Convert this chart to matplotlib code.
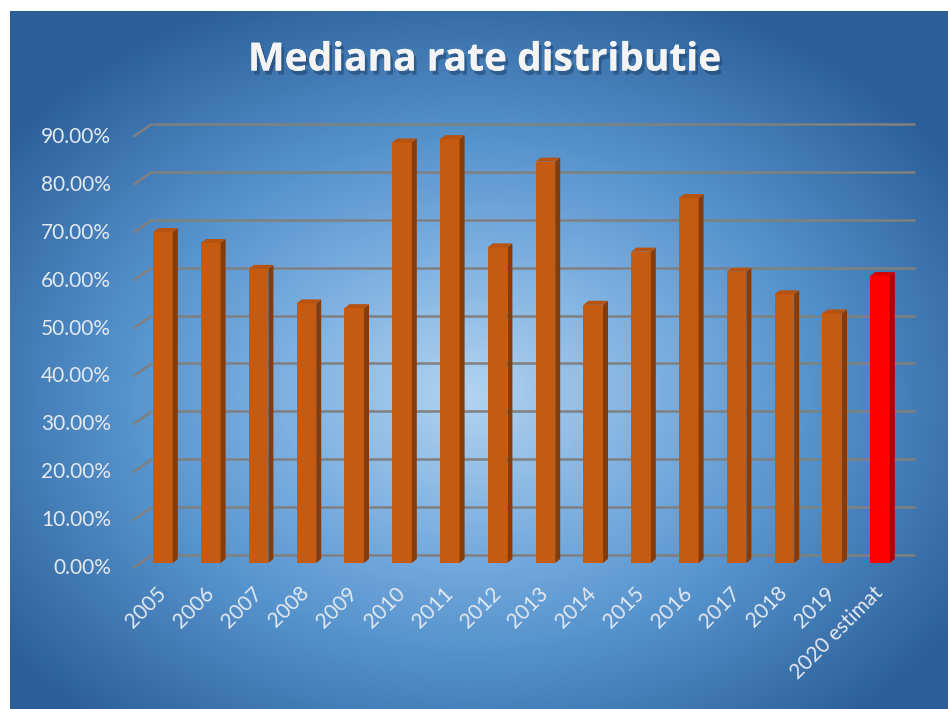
import numpy as np
import matplotlib
matplotlib.use("Agg")
import matplotlib.pyplot as plt
from matplotlib.patches import Polygon
from matplotlib.colors import LinearSegmentedColormap
import matplotlib.patheffects as pe

# ---- data ----
categories = ["2005", "2006", "2007", "2008", "2009", "2010", "2011", "2012",
              "2013", "2014", "2015", "2016", "2017", "2018", "2019", "2020 estimat"]
values = [69.1, 66.8, 61.4, 54.2, 53.2, 87.8, 88.5, 65.9,
          83.8, 53.9, 65.0, 76.2, 60.8, 56.1, 52.1, 59.9]
y_ticks = [0, 10, 20, 30, 40, 50, 60, 70, 80, 90]
title = "Mediana rate distributie"

W, H = 948, 709
fig = plt.figure(figsize=(W / 100, H / 100), dpi=100)
fig.patch.set_facecolor("white")

# ---- background radial gradient ----
bg = fig.add_axes([10 / W, 0, (W - 10) / W, (H - 11) / H], zorder=-5)
bg.set_axis_off()
gx, gy = np.meshgrid(np.linspace(0, 1, 400), np.linspace(0, 1, 300))
cx, cy = 0.49, 0.55
r = np.sqrt(((gx - cx) / 0.62) ** 2 + ((gy - cy) / 0.62) ** 2)
r = np.clip(r, 0, 1)
cmap = LinearSegmentedColormap.from_list(
    "bg", [(0, "#b2d3f0"), (0.35, "#79addf"), (0.6, "#5592cc"), (1.0, "#2c5f98")])
bg.imshow(r, cmap=cmap, vmin=0, vmax=1, aspect="auto", origin="upper",
          extent=[0, 1, 0, 1], interpolation="bilinear")
bg.set_xlim(0, 1)
bg.set_ylim(0, 1)

# ---- main axes ----
px_per_cat = 47.8
px_per_unit = 4.79  # pixels per percent
x0_pix = 163.0     # centre of first bar front face
y0_pix = 563.0     # bar front zero
xlim = (-1.0, 15.8)
ylim = (-3.0, 95.0)
left_pix = x0_pix + xlim[0] * px_per_cat
right_pix = x0_pix + xlim[1] * px_per_cat
bot_pix = y0_pix - ylim[0] * px_per_unit
top_pix = y0_pix - ylim[1] * px_per_unit
ax = fig.add_axes([left_pix / W, (H - bot_pix) / H,
                   (right_pix - left_pix) / W, (bot_pix - top_pix) / H])
ax.set_xlim(*xlim)
ax.set_ylim(*ylim)
ax.set_axis_off()
ax.patch.set_alpha(0)

# 3D offsets
back_dy = 8 / px_per_unit
front_dy = 5 / px_per_unit
back_x = (152 - x0_pix) / px_per_cat
front_x = (133 - x0_pix) / px_per_cat
end_x = (915 - x0_pix) / px_per_cat
grid_col = "#808080"
txt_col = "#e4e9f0"
for v in y_ticks:
    ax.plot([back_x, end_x], [v + back_dy, v + back_dy], color=grid_col, lw=1.8,
            zorder=1, solid_capstyle="butt")
    ax.plot([front_x, back_x], [v - front_dy, v + back_dy], color=grid_col, lw=1.8,
            zorder=1, solid_capstyle="butt")
    ax.text((111 - x0_pix) / px_per_cat, v - front_dy, f"{v:.2f}%",
            ha="right", va="center", fontsize=15, color=txt_col,
            family=["Lato", "DejaVu Sans"], clip_on=False)

# bars
w = 0.41
dx = 5 / px_per_cat
dy = 4 / px_per_unit
x = np.arange(len(categories))
front_cols = ["#c55a11"] * (len(categories) - 1) + ["#ff0000"]
side_cols = ["#843c0c"] * (len(categories) - 1) + ["#b00000"]
top_cols = ["#b8520f"] * (len(categories) - 1) + ["#d80000"]
ax.bar(x, values, width=w, color=front_cols, zorder=3, linewidth=0)
for xi, v, sc, tc in zip(x, values, side_cols, top_cols):
    ax.add_patch(Polygon([(xi + w / 2, 0), (xi + w / 2 + dx, dy),
                          (xi + w / 2 + dx, v + dy), (xi + w / 2, v)],
                         closed=True, facecolor=sc, edgecolor="none", zorder=3))
    ax.add_patch(Polygon([(xi - w / 2, v), (xi + w / 2, v),
                          (xi + w / 2 + dx, v + dy), (xi - w / 2 + dx, v + dy)],
                         closed=True, facecolor=tc, edgecolor="none", zorder=3))

# x labels
for xi, lab in zip(x, categories):
    ax.text(xi + 0.0, (y0_pix - 590) / px_per_unit, lab, rotation=45,
            rotation_mode="anchor", ha="right", va="center", fontsize=15,
            color=txt_col, family=["Lato", "DejaVu Sans"], clip_on=False)

# title
fig.text(484 / W, 1 - 60 / H, title, ha="center", va="center", fontsize=28,
         fontweight="bold", color="#f4f4f4", family=["Open Sans", "DejaVu Sans"],
         path_effects=[pe.withSimplePatchShadow(offset=(2, -3), shadow_rgbFace="#17365d",
                                                alpha=0.45), pe.Normal()])

fig.savefig("out.png", dpi=100)
